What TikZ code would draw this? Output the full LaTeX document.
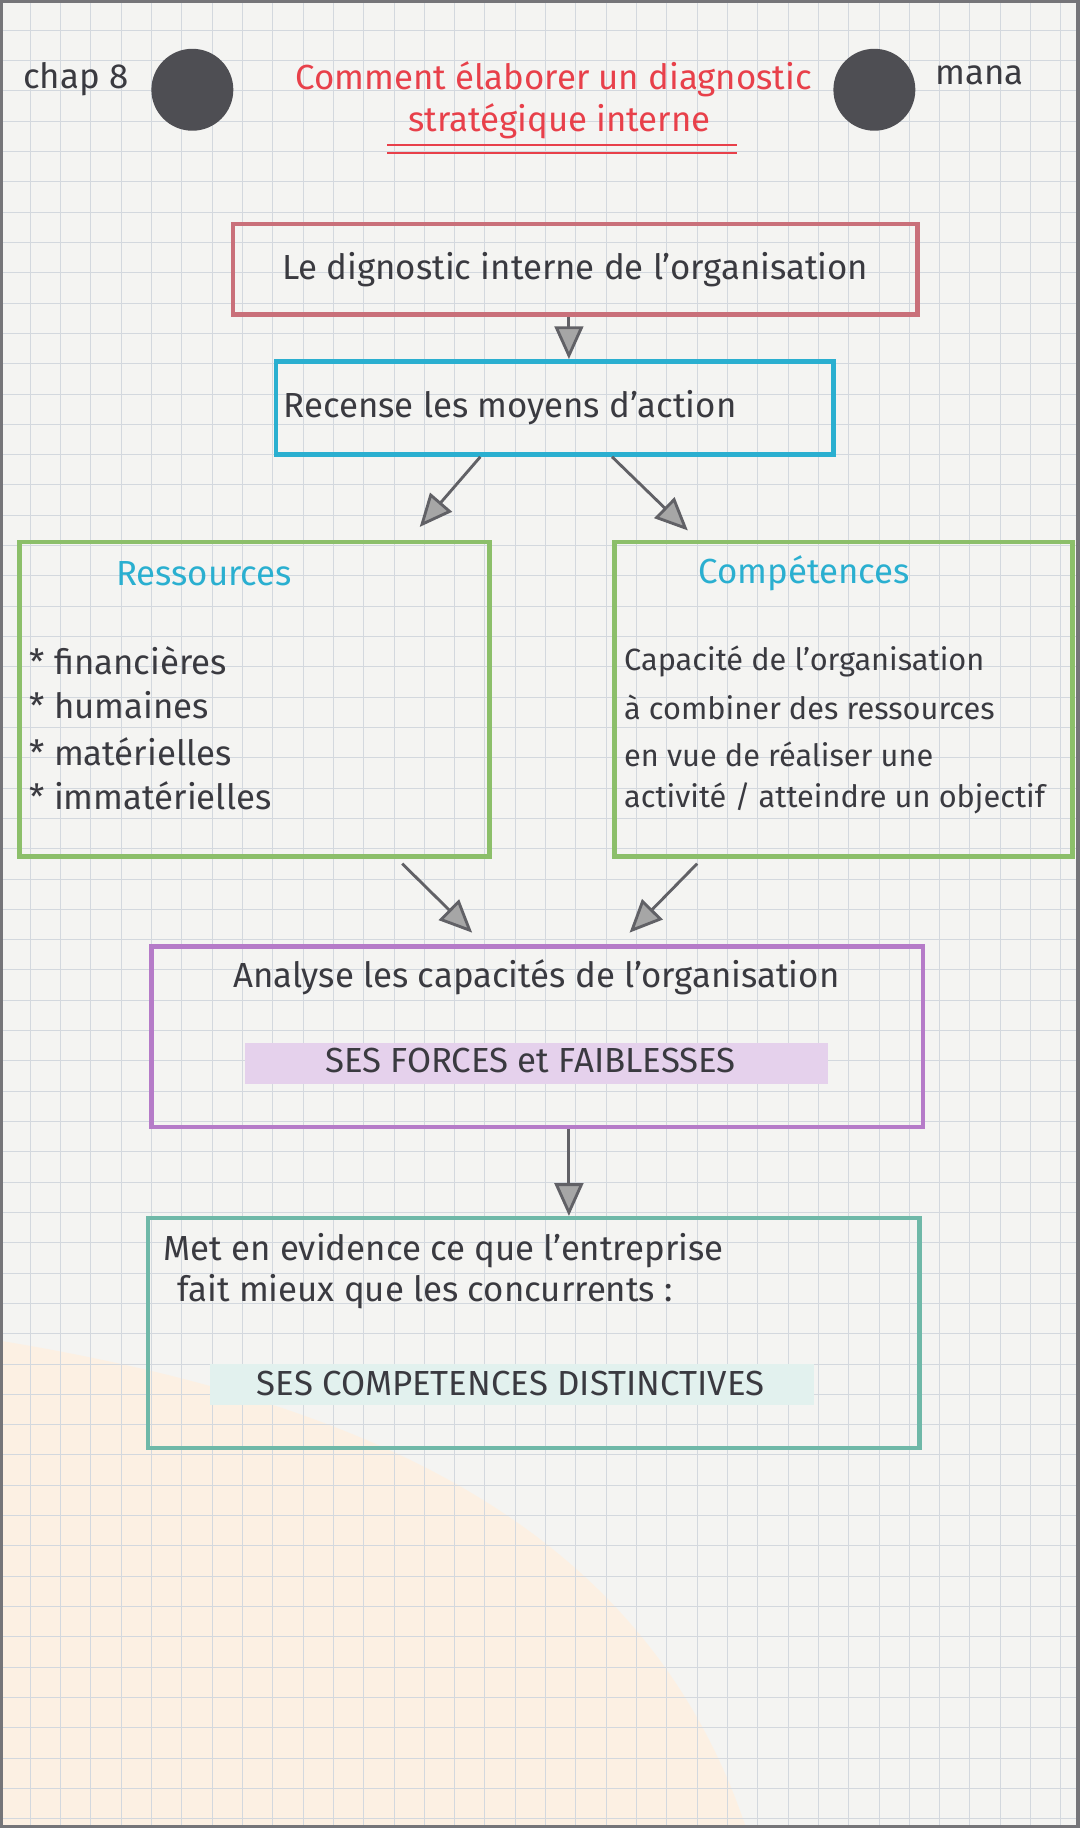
\documentclass[tikz,border=0pt]{standalone}
\usepackage{fontspec}
\setmainfont{Fira Sans}
\usetikzlibrary{arrows.meta,calc}
\definecolor{paper}{HTML}{F4F4F2}
\definecolor{gridc}{HTML}{D3D8DE}
\definecolor{rbox}{HTML}{C9707A}
\definecolor{cbox}{HTML}{2AAFD0}
\definecolor{gbox}{HTML}{8CBF6A}
\definecolor{vbox}{HTML}{B57BC8}
\definecolor{tbox}{HTML}{6FB8A8}
\definecolor{titred}{HTML}{E8404A}
\definecolor{ink}{HTML}{3A3A40}
\tikzset{
  box/.style={draw=#1,line width=2.2pt,inner sep=0pt,anchor=north west},
  hand/.style={text=ink,font=\fontsize{17}{20}\selectfont,inner sep=0pt},
  small/.style={hand,font=\fontsize{15}{18}\selectfont},
  arr/.style={draw=ink!80,line width=1.4pt,-{Triangle[length=16pt,width=14pt,fill=gray!70]}},
  hole/.style={circle,fill=ink!90,minimum size=40pt,inner sep=0pt},
}
\begin{document}
\begin{tikzpicture}[x=0.02cm,y=-0.02cm]
\useasboundingbox (0,0) rectangle (926,1568);
\fill[paper] (0,0) rectangle (926,1568);
\fill[orange!12,opacity=0.8] (0,1150) .. controls (300,1200) and (550,1300) .. (640,1568) -- (0,1568) -- cycle;
\foreach \g in {0,26,...,926} \draw[gridc,line width=0.5pt] (\g,0) -- (\g,1568);
\foreach \g in {0,26,...,1568} \draw[gridc,line width=0.5pt] (0,\g) -- (926,\g);
\draw[ink!70,line width=3pt] (0,0) rectangle (926,1568);
% header
\node[hand] (chap) at (65,68) {chap 8};
\node[hole] (h1) at (165,77) {};
\node[hole] (h2) at (750,77) {};
\node[hand,text=titred] (t1) at (475,68) {Comment élaborer un diagnostic};
\node[hand,text=titred] (t2) at (480,104) {stratégique interne};
\draw[titred,line width=1pt] (332,124) -- (632,124) (332,131) -- (632,131);
\node[hand] (mana) at (840,65) {mana};
% boxes
\node[box=rbox,minimum width=11.74cm,minimum height=1.56cm] (b1) at (198,190) {};
\node[hand] at (b1.center) {Le dignostic interne de l'organisation};
\node[box=cbox,minimum width=9.56cm,minimum height=1.6cm] (b2) at (235,308) {};
\node[hand,anchor=west] at ($(b2.west)+(8,0)$) {Recense les moyens d'action};
\node[box=gbox,minimum width=8.06cm,minimum height=5.4cm] (b3) at (15,463) {};
\node[box=gbox,minimum width=7.86cm,minimum height=5.4cm] (b4) at (525,463) {};
\node[box=vbox,minimum width=13.24cm,minimum height=3.1cm] (b5) at (128,810) {};
\node[box=tbox,minimum width=13.24cm,minimum height=3.94cm] (b6) at (125,1043) {};
% box 3 text
\node[hand,text=cbox] (r0) at (175,492) {Ressources};
\node[hand,anchor=west] (r1) at (25,567) {* financières};
\node[hand,anchor=west] (r2) at (25,605) {* humaines};
\node[hand,anchor=west] (r3) at (25,645) {* matérielles};
\node[hand,anchor=west] (r4) at (25,683) {* immatérielles};
% box 4 text
\node[hand,text=cbox] (c0) at (690,492) {Compétences};
\node[small,anchor=west] (c1) at (535,567) {Capacité de l'organisation};
\node[small,anchor=west] (c2) at (535,607) {à combiner des ressources};
\node[small,anchor=west] (c3) at (535,647) {en vue de réaliser une};
\node[small,anchor=west] (c4) at (535,685) {activité / atteindre un objectif};
% box5 text
\node[hand] (a1) at (460,838) {Analyse les capacités de l'organisation};
\fill[vbox!35] (210,895) rectangle (710,930);
\node[hand] (a2) at (455,910) {SES FORCES et FAIBLESSES};
% box6 text
\node[hand,anchor=west] (m1) at (140,1073) {Met en evidence ce que l'entreprise};
\node[hand,anchor=west] (m2) at (152,1108) {fait mieux que les concurrents :};
\fill[tbox!20] (180,1170) rectangle (698,1205);
\node[hand] (m3) at (438,1187) {SES COMPETENCES DISTINCTIVES};
% arrows
\draw[arr] (b1.south -| 488,0) -- (b2.north -| 488,0);
\draw[arr] ($(b2.south west)+(177,0)$) -- (360,452);
\draw[arr] ($(b2.south west)+(290,0)$) -- (590,455);
\draw[arr] ($(b3.south west)+(330,4)$) -- (405,800);
\draw[arr] ($(b4.south west)+(73,4)$) -- (540,800);
\draw[arr] (b5.south -| 488,0) -- (b6.north -| 488,0);
\end{tikzpicture}
\end{document}
